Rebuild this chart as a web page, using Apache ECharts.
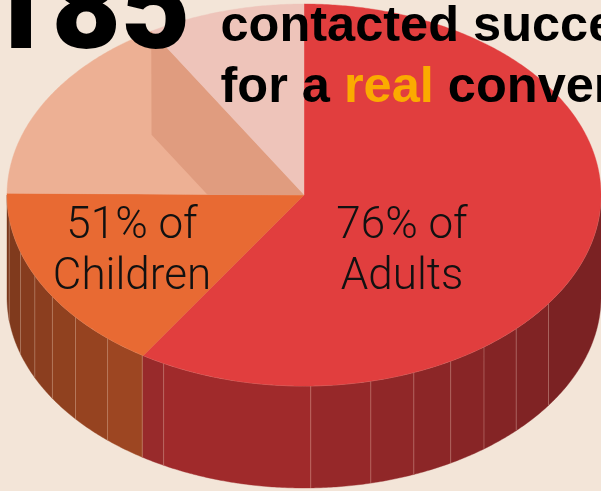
<!DOCTYPE html>
<html>
<head>
<meta charset="utf-8">
<style>html,body{margin:0;padding:0;background:#f3e5d8;overflow:hidden}#chart{width:601px;height:491px}</style>
<script src="https://cdn.jsdelivr.net/npm/echarts@6/dist/echarts.min.js"></script>
</head>
<body>
<div id="chart"></div>
<script>
// Share of the disc, clockwise from twelve o'clock
const sliceNames = ['Adults reached', 'Children reached', 'Children not reached', 'Adults not reached'];
const sliceValues = [59.1, 16.05, 16.25, 8.6];
const sliceColors = ['#e13e3e', '#e86a33', '#edb094', '#eec4ba'];
const sliceLabels = ['76% of\nAdults', '51% of\nChildren', '', ''];

// Wall of the drum, as facets: end angle in degrees clockwise from the top
const facetEndAngles = [124.6, 134.4, 142.7, 150.4, 158.3, 167, 178.7, 208.2, 213, 221.4, 230.3, 237.9, 245, 252.6, 263, 270];
const facetColors = ['#7b2223', '#802324', '#842425', '#882526', '#8c2627', '#902728', '#962829', '#a02a2b', '#982a2b',
  '#9d4622', '#964320', '#90411f', '#8b3e1f', '#863c1e', '#803a1d', '#7a371c'];

const headline = 'contacted succe';
const headlineSecond = ['for a ', 'real', ' conver'];
const bigNumber = '185';

const colors = { page: '#f3e5d8', ink: '#000000', accent: '#fbab00', fold: '#e09c7f', seam: 'rgba(255,225,210,0.28)' };
const disc = { cx: 304, cy: 195, rx: 297, ry: 191, depth: 102 };
const fold = { footShare: 0.324, kneeShare: 0.368 };
const labelPlaces = [{ dx: 98, dy: 57.5 }, { dx: -172, dy: 57.5 }];

const point = (deg, k = 1) => {
  const a = deg * Math.PI / 180;
  return [disc.cx + disc.rx * k * Math.sin(a), disc.cy - disc.ry * k * Math.cos(a)];
};
const arc = (from, to, drop = 0) => {
  const pts = [];
  const n = Math.max(2, Math.ceil(Math.abs(to - from) * 2));
  for (let i = 0; i <= n; i++) {
    const p = point(from + (to - from) * i / n);
    pts.push([p[0], p[1] + drop]);
  }
  return pts;
};
const total = sliceValues.reduce((s, v) => s + v, 0);
const sliceStarts = sliceValues.map((_, i) => sliceValues.slice(0, i).reduce((s, v) => s + v, 0) / total * 360);
const sliceEnds = sliceValues.map((_, i) => sliceValues.slice(0, i + 1).reduce((s, v) => s + v, 0) / total * 360);

function renderFacet(params) {
  const i = params.dataIndex;
  const from = i === 0 ? 90 : facetEndAngles[i - 1];
  const to = facetEndAngles[i];
  const top = arc(from, to);
  const bottom = arc(to, from, disc.depth);
  const children = [{
    type: 'polygon',
    shape: { points: top.concat(bottom) },
    style: { fill: facetColors[i], stroke: facetColors[i], lineWidth: 0.4 }
  }];
  if (i > 0) {
    const p = point(from);
    children.push({
      type: 'line',
      shape: { x1: p[0], y1: p[1], x2: p[0], y2: p[1] + disc.depth },
      style: { stroke: colors.seam, lineWidth: 1 }
    });
  }
  children.push({ type: 'polyline', shape: { points: top }, style: { stroke: colors.seam, fill: null, lineWidth: 1 } });
  return { type: 'group', children };
}

function renderSlice(params) {
  const i = params.dataIndex;
  const pts = [[disc.cx, disc.cy]].concat(arc(sliceStarts[i], sliceEnds[i]));
  const children = [{
    type: 'polygon',
    shape: { points: pts },
    style: { fill: sliceColors[i], stroke: sliceColors[i], lineWidth: 0.4 }
  }];
  return { type: 'group', children };
}

// Darker band where the pale slices fold over each other
function renderFold() {
  const rim = point(sliceEnds[2]);
  const foot = [disc.cx - fold.footShare * disc.rx, disc.cy];
  const knee = [foot[0] + fold.kneeShare * (rim[0] - disc.cx), foot[1] + fold.kneeShare * (rim[1] - disc.cy)];
  return {
    type: 'polygon',
    shape: { points: [[disc.cx, disc.cy], rim, knee, foot] },
    style: { fill: colors.fold }
  };
}

function renderLabel(params) {
  const i = params.dataIndex;
  const place = labelPlaces[i];
  return {
    type: 'text',
    style: {
      x: disc.cx + place.dx, y: disc.cy + place.dy,
      text: sliceLabels[i], fill: '#111111',
      font: '300 44px Roboto',
      lineHeight: 51, align: 'center', verticalAlign: 'middle'
    }
  };
}

const chart = echarts.init(document.getElementById('chart'), null, { renderer: 'canvas' });
chart.setOption({
  backgroundColor: colors.page,
  animation: false,
  series: [
    { type: 'custom', coordinateSystem: 'none', z: 1, silent: true, data: facetEndAngles, renderItem: renderFacet },
    { type: 'custom', coordinateSystem: 'none', z: 2, silent: true, data: sliceValues.map((v, i) => ({ name: sliceNames[i], value: v })), renderItem: renderSlice },
    { type: 'custom', coordinateSystem: 'none', z: 3, silent: true, data: [sliceValues[2]], renderItem: renderFold },
    { type: 'custom', coordinateSystem: 'none', z: 4, silent: true, data: sliceLabels.filter(Boolean), renderItem: renderLabel }
  ],
  graphic: [
    { type: 'text', z: 10, silent: true, style: { x: -18, y: 78, text: bigNumber, fill: colors.ink, font: '900 120px Roboto', align: 'left', verticalAlign: 'bottom', lineHeight: 120 } },
    { type: 'text', z: 10, silent: true, style: { x: 220.5, y: 27, text: headline, fill: colors.ink, font: 'bold 50.5px "Liberation Sans"', align: 'left', verticalAlign: 'middle' } },
    { type: 'text', z: 10, silent: true, style: { x: 220.5, y: 88,
        text: headlineSecond[0] + '{hi|' + headlineSecond[1] + '}' + headlineSecond[2],
        fill: colors.ink, font: 'bold 50.5px "Liberation Sans"', align: 'left', verticalAlign: 'middle',
        rich: { hi: { fill: colors.accent, font: 'bold 50.5px "Liberation Sans"' } } } }
  ]
});
</script>
</body>
</html>
